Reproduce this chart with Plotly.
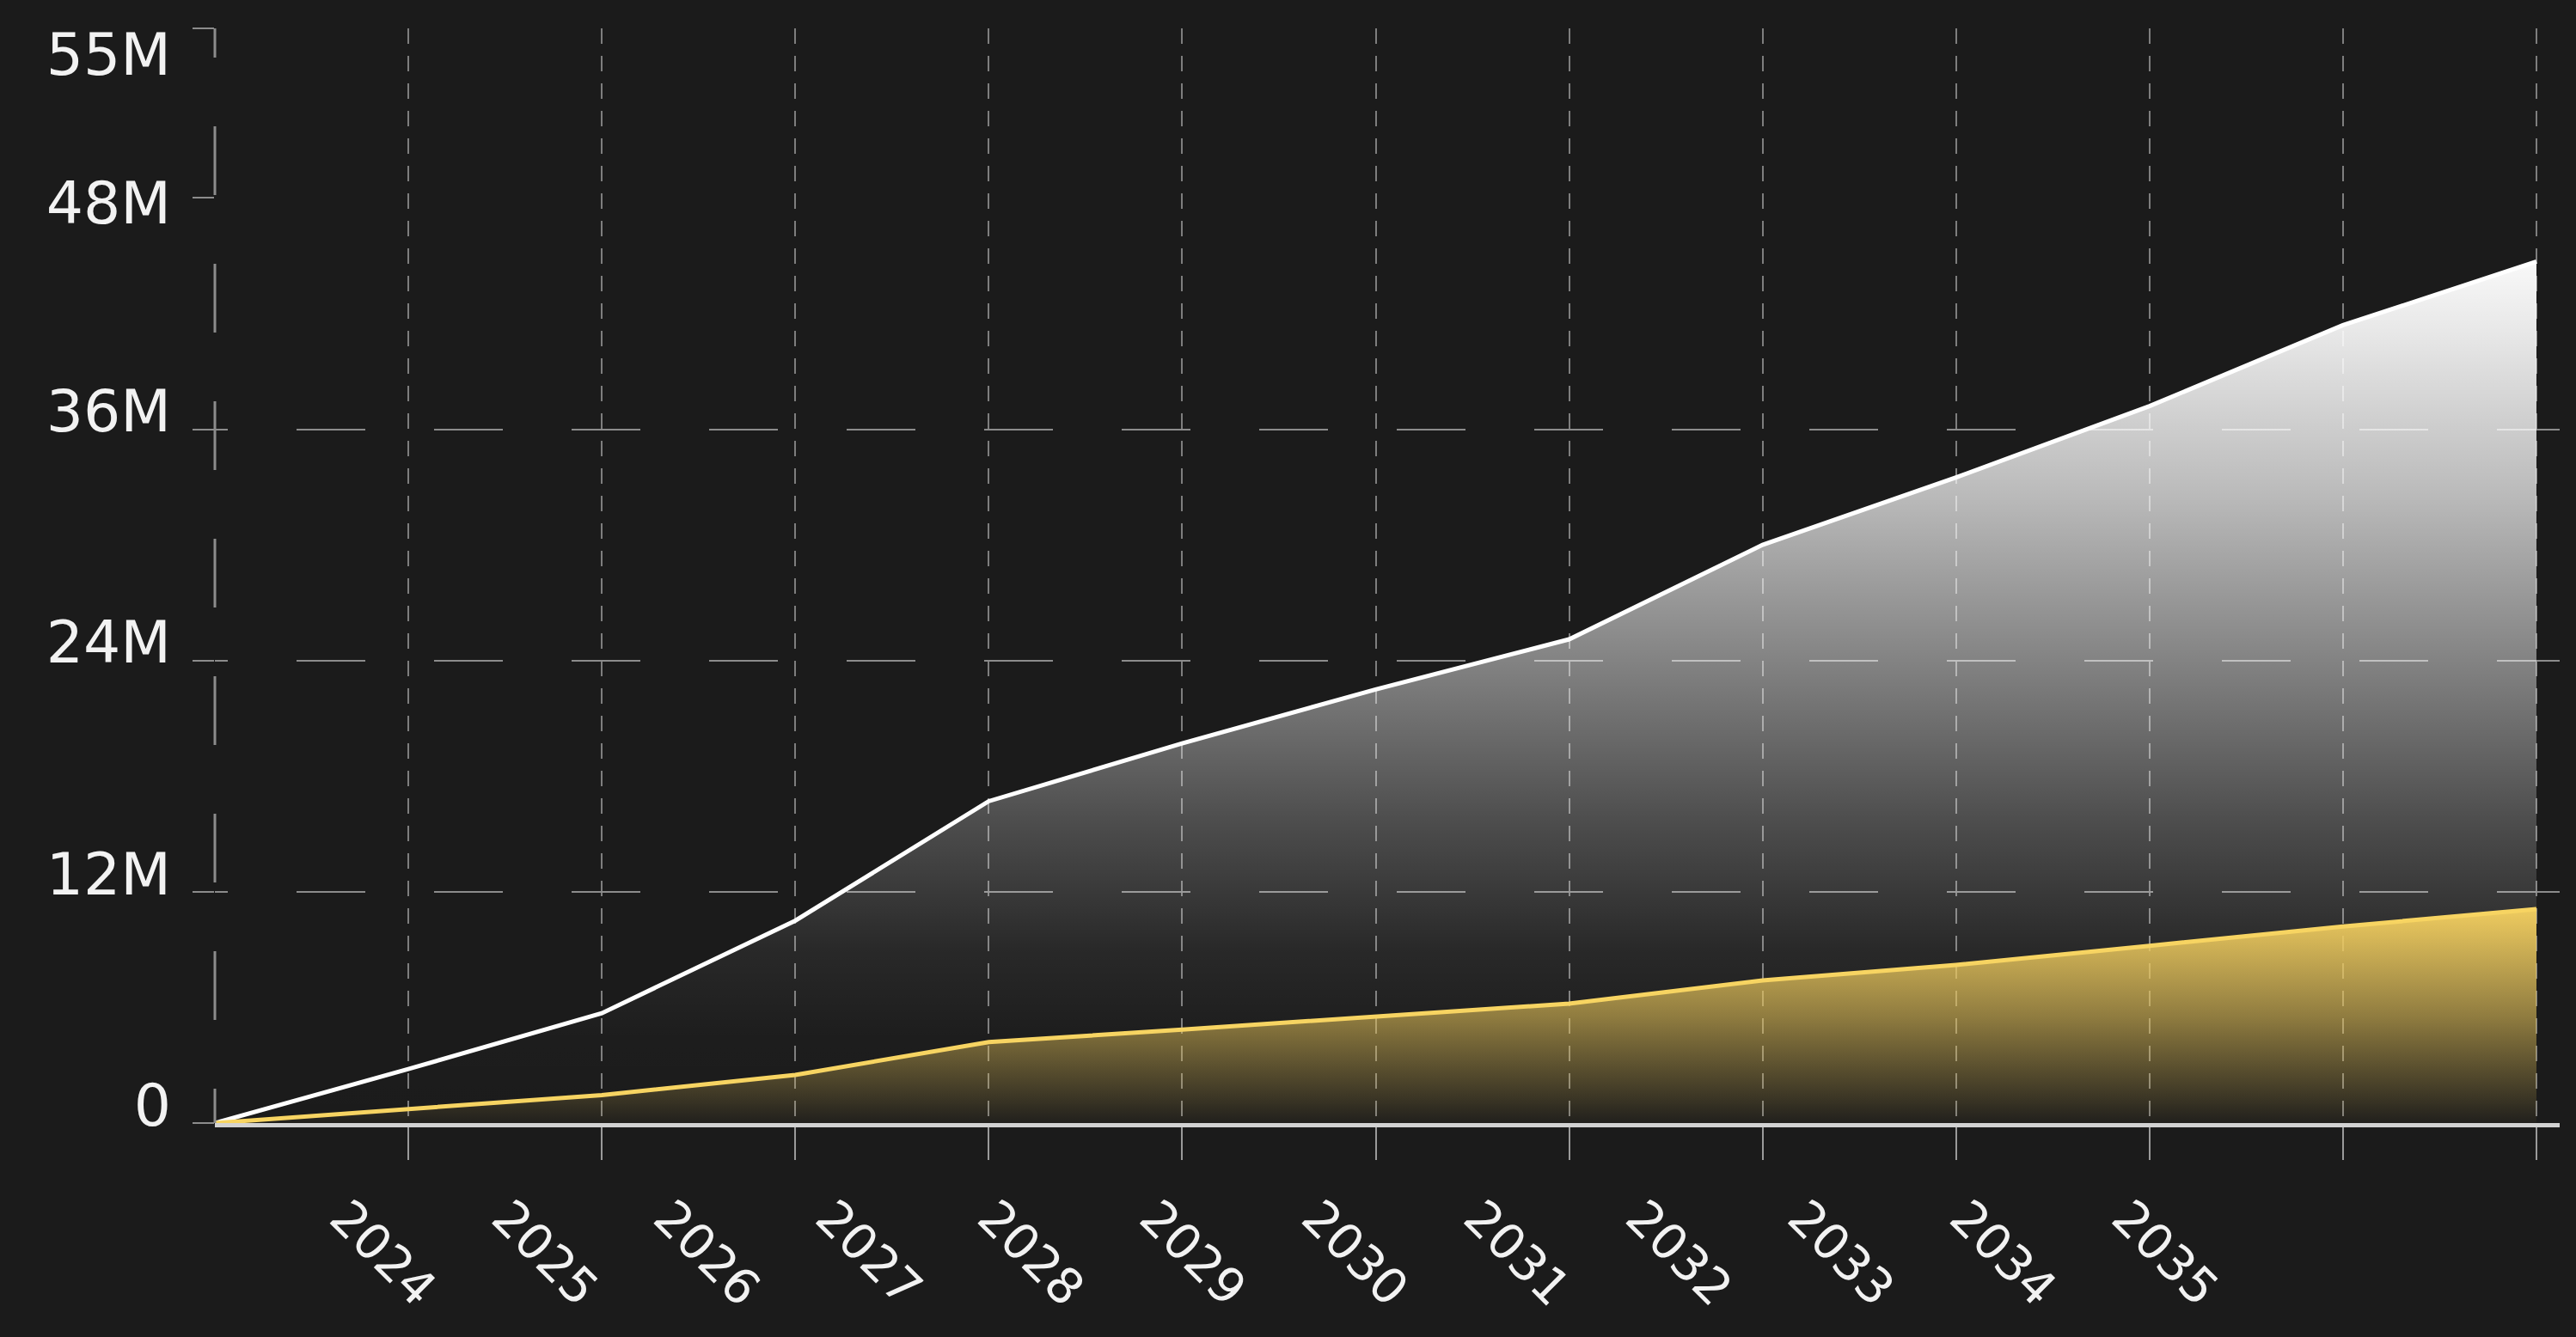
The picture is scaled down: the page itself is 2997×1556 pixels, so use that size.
import plotly.graph_objects as go

# ---------------- data ----------------
years = [2023, 2024, 2025, 2026, 2027, 2028, 2029, 2030, 2031, 2032, 2033, 2034, 2035]
total_m = [0, 2.8, 5.7, 10.5, 16.7, 19.7, 22.5, 25.1, 30.0, 33.5, 37.2, 41.4, 44.7]
segment_m = [0, 0.7, 1.45, 2.5, 4.2, 4.85, 5.5, 6.2, 7.4, 8.2, 9.2, 10.2, 11.1]
x_tick_labels = ["2024", "2025", "2026", "2027", "2028", "2029",
                 "2030", "2031", "2032", "2033", "2034", "2035"]
y_tick_values_m = [0, 12, 24, 36, 48]
y_tick_labels = ["0", "12M", "24M", "36M", "48M", "55M"]
y_grid_values_m = [12, 24, 36]

M = 1e6
total = [v * M for v in total_m]
segment = [v * M for v in segment_m]

# ---------------- layout constants ----------------
W, H = 2997, 1556
BG = "#1b1b1b"
Y_TOP = 56.8 * M
X_MAX = 2035.12
LABEL_X0 = 2023.67      # where the first rotated year label starts
LABEL_STEP = 0.8374     # spacing of the rotated year labels (axis units)
Y_LABEL_POS_M = [0.94, 12.93, 24.97, 36.95, 47.73, 55.44]
FONT = "DejaVu Sans"

h_grid_dash = ",".join(["15px"] + ["80px"] * 40)
axis_dash = ",".join(["40px"] + ["80px"] * 20)

fig = go.Figure()

fig.add_trace(go.Scatter(
    x=years, y=total, mode="lines", name="Total",
    line=dict(color="#ffffff", width=5),
    fill="tozeroy",
    fillgradient=dict(
        type="vertical",
        colorscale=[
            [0.0, "rgba(255,255,255,0.0)"],
            [0.1, "rgba(255,255,255,0.01)"],
            [0.2, "rgba(255,255,255,0.06)"],
            [0.35, "rgba(255,255,255,0.22)"],
            [0.54, "rgba(255,255,255,0.46)"],
            [0.73, "rgba(255,255,255,0.70)"],
            [0.92, "rgba(255,255,255,0.90)"],
            [1.0, "rgba(255,255,255,0.97)"],
        ],
    ),
    hoverinfo="skip",
))

fig.add_trace(go.Scatter(
    x=years, y=segment, mode="lines", name="Segment",
    line=dict(color="#f7d462", width=5),
    fill="tozeroy",
    fillgradient=dict(
        type="vertical",
        colorscale=[
            [0.0, "rgba(236,200,90,0.03)"],
            [0.5, "rgba(236,200,90,0.55)"],
            [1.0, "rgba(242,206,96,0.98)"],
        ],
    ),
    hoverinfo="skip",
))

# empty helper traces so that the overlaid label / grid axes are drawn
for xa, ya in (("x2", "y"), ("x", "y2"), ("x", "y3")):
    fig.add_trace(go.Scatter(x=[], y=[], xaxis=xa, yaxis=ya, mode="lines",
                             showlegend=False, hoverinfo="skip"))

fig.update_layout(
    width=W, height=H,
    paper_bgcolor=BG, plot_bgcolor=BG,
    margin=dict(l=250, r=19, t=33, b=249, pad=0),
    showlegend=False,
    font=dict(family=FONT, color="#f2f2f2"),
    xaxis=dict(
        range=[years[0], X_MAX],
        tickvals=years[1:],
        showticklabels=False,
        ticks="outside", ticklen=38, tickwidth=2, tickcolor="#9a9a9a",
        showgrid=True, gridcolor="#7e7e7e", gridwidth=2, griddash="18px,14px",
        showline=True, linecolor="#d2d2d2", linewidth=5,
        zeroline=False,
    ),
    xaxis2=dict(
        overlaying="x", anchor="y", side="bottom",
        range=[years[0], X_MAX],
        tickvals=[LABEL_X0 + i * LABEL_STEP for i in range(len(x_tick_labels))],
        ticktext=x_tick_labels,
        tickangle=45,
        tickfont=dict(family=FONT, size=57, color="#f2f2f2"),
        ticks="", showgrid=False, showline=False, zeroline=False,
        ticklabelstandoff=64,
    ),
    yaxis=dict(
        range=[0, Y_TOP],
        tickvals=[v * M for v in y_tick_values_m] + [Y_TOP],
        showticklabels=False,
        ticks="outside", ticklen=25, tickwidth=2, tickcolor="#8c8c8c",
        showgrid=False, showline=False, zeroline=False,
    ),
    yaxis2=dict(
        overlaying="y", anchor="x", side="left",
        range=[0, Y_TOP],
        tickvals=[v * M for v in y_grid_values_m],
        showticklabels=False, ticks="",
        showgrid=True, gridcolor="#8c8c8c", gridwidth=2, griddash=h_grid_dash,
        showline=False, zeroline=False,
    ),
    yaxis3=dict(
        overlaying="y", anchor="x", side="left",
        range=[0, Y_TOP],
        tickvals=[v * M for v in Y_LABEL_POS_M],
        ticktext=y_tick_labels,
        tickfont=dict(family=FONT, size=68, color="#f2f2f2"),
        ticks="", showgrid=False, showline=False, zeroline=False,
        ticklabelstandoff=50,
    ),
    shapes=[dict(
        type="line", xref="x domain", yref="y domain",
        x0=0, x1=0, y0=0, y1=1,
        line=dict(color="#8c8c8c", width=3, dash=axis_dash),
        layer="above",
    )],
)

fig.write_html(
    "out.html",
    config={"displayModeBar": False},
    post_script="document.body.style.margin='0';document.body.style.background='%s';" % BG,
)
